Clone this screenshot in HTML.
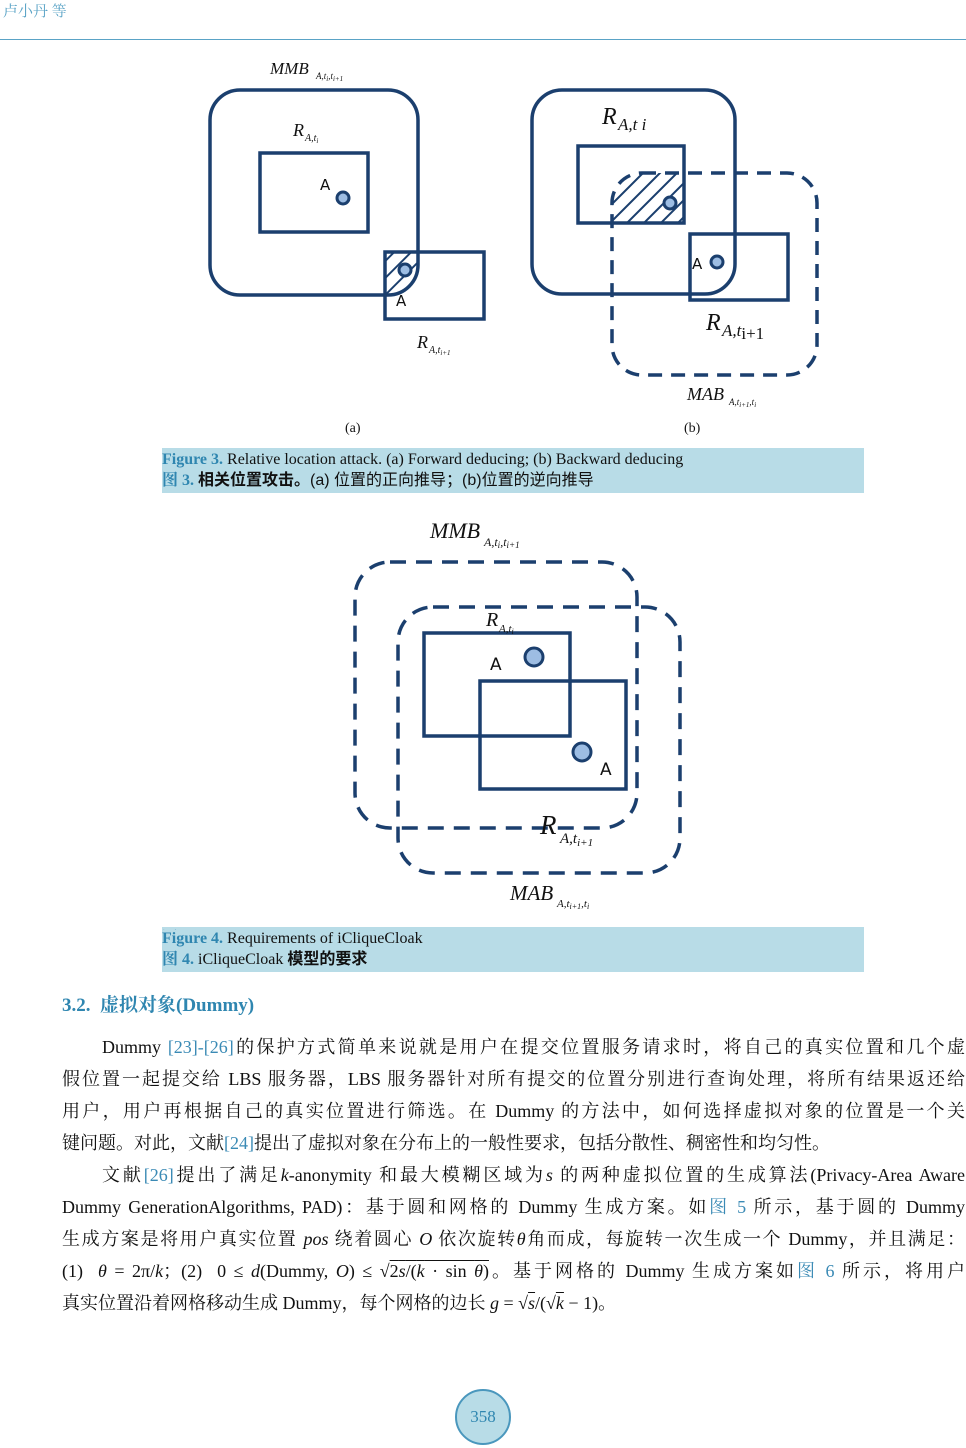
<!DOCTYPE html>
<html><head><meta charset="utf-8"><style>
body{margin:0;width:966px;height:1448px;background:#fff;position:relative;overflow:hidden;font-family:"Liberation Serif","Noto Serif CJK SC",serif;color:#111}
.a{position:absolute}
.ln{position:absolute;left:62px;width:903px;font-size:18px;text-align:justify;text-align-last:justify;white-space:nowrap;line-height:22px}
.b{color:#3a8ab5}
.cap{position:absolute;left:162px;width:702px;height:44px;background:#b8dce7;font-size:16px;line-height:21px;padding-top:1px}
.cap .f{color:#2f86b0;font-weight:bold}
.cap .s{font-family:"Liberation Sans","Noto Sans CJK SC",sans-serif}
svg text{font-family:"Liberation Serif",serif;font-style:italic;fill:#111}
</style></head><body>
<div class="a" style="left:3px;top:0;font-size:15px;color:#5aa3c6">卢小丹 等</div>
<div class="a" style="left:0;top:39px;width:966px;height:1px;background:#5aa3c6"></div>

<svg class="a" style="left:0;top:0" width="966" height="1000">
<defs>
<pattern id="h" patternUnits="userSpaceOnUse" width="12" height="12" patternTransform="rotate(45)"><line x1="0" y1="0" x2="0" y2="12" stroke="#1b3f6e" stroke-width="4"/></pattern>
<clipPath id="ca"><rect x="210" y="90" width="208" height="205" rx="30"/></clipPath>
<clipPath id="cb"><rect x="612" y="173" width="205" height="202" rx="30"/></clipPath>
</defs>
<g fill="none" stroke="#1b3f6e" stroke-width="3.5">
<rect x="385" y="252" width="33" height="43" fill="url(#h)" clip-path="url(#ca)" stroke="none"/>
<rect x="210" y="90" width="208" height="205" rx="30"/>
<rect x="260" y="153" width="108" height="79"/>
<rect x="385" y="252" width="99" height="67"/>
<rect x="612" y="173" width="72" height="50" fill="url(#h)" clip-path="url(#cb)" stroke="none"/>
<rect x="532" y="90" width="203" height="204" rx="30"/>
<rect x="578" y="146" width="106" height="77"/>
<rect x="690" y="234" width="98" height="66"/>
<rect x="612" y="173" width="205" height="202" rx="30" stroke-dasharray="14,9"/>
<rect x="355" y="562" width="282" height="266" rx="35" stroke-dasharray="16,10"/>
<rect x="398" y="607" width="282" height="266" rx="35" stroke-dasharray="16,10"/>
<rect x="424" y="633" width="146" height="103"/>
<rect x="480" y="681" width="146" height="108"/>
</g>
<g fill="#9dbde3" stroke="#1b3f6e" stroke-width="3">
<circle cx="343" cy="198" r="6"/><circle cx="405" cy="270" r="6"/>
<circle cx="670" cy="203" r="6"/><circle cx="717" cy="262" r="6"/>
<circle cx="534" cy="657" r="9"/><circle cx="582" cy="752" r="9"/>
</g>
<g font-size="15">
<text x="320" y="190" style="font-style:normal;font-family:'DejaVu Sans',sans-serif">A</text>
<text x="396" y="306" style="font-style:normal;font-family:'DejaVu Sans',sans-serif">A</text>
<text x="692" y="269" style="font-style:normal;font-family:'DejaVu Sans',sans-serif">A</text>
<text x="490" y="670" style="font-style:normal;font-family:'DejaVu Sans',sans-serif" font-size="17">A</text>
<text x="600" y="775" style="font-style:normal;font-family:'DejaVu Sans',sans-serif" font-size="17">A</text>
</g>
<text x="270" y="74" font-size="17">MMB</text><text x="316" y="79" font-size="9">A,t<tspan font-size="7" dy="2">i</tspan><tspan dy="-2">,t</tspan><tspan font-size="7" dy="2">i+1</tspan></text>
<text x="293" y="136" font-size="18">R</text><text x="305" y="141" font-size="10">A,t<tspan font-size="7" dy="2">i</tspan></text>
<text x="417" y="348" font-size="18">R</text><text x="429" y="353" font-size="10">A,t<tspan font-size="7" dy="2">i+1</tspan></text>
<text x="602" y="124" font-size="24">R</text><text x="618" y="130" font-size="17">A,t i</text>
<text x="706" y="330" font-size="24">R</text><text x="722" y="336" font-size="17">A,t<tspan dy="3" style="font-style:normal">i+1</tspan></text>
<text x="687" y="400" font-size="18">MAB</text><text x="729" y="405" font-size="9">A,t<tspan font-size="7" dy="2">i+1</tspan><tspan dy="-2">,t</tspan><tspan font-size="7" dy="2">i</tspan></text>
<text x="345" y="432" font-size="14" style="font-style:normal">(a)</text>
<text x="684" y="432" font-size="14" style="font-style:normal">(b)</text>
<text x="430" y="538" font-size="22">MMB</text><text x="484" y="546" font-size="12">A,t<tspan font-size="9" dy="2">i</tspan><tspan dy="-2">,t</tspan><tspan font-size="9" dy="2">i+1</tspan></text>
<text x="486" y="626" font-size="20">R</text><text x="499" y="632" font-size="11">A,t<tspan font-size="8" dy="2">i</tspan></text>
<text x="540" y="834" font-size="27">R</text><text x="560" y="843" font-size="15">A,t<tspan font-size="11" dy="3">i+1</tspan></text>
<text x="510" y="900" font-size="21">MAB</text><text x="557" y="907" font-size="11">A,t<tspan font-size="8" dy="2">i+1</tspan><tspan dy="-2">,t</tspan><tspan font-size="8" dy="2">i</tspan></text>
</svg>

<div class="cap" style="top:448px"><span class="f">Figure 3.</span> Relative location attack. (a) Forward deducing; (b) Backward deducing<br><span class="f">图 3.</span> <span class="s"><b>相关位置攻击。</b>(a) 位置的正向推导；(b)位置的逆向推导</span></div>
<div class="cap" style="top:927px"><span class="f">图</span><span style="display:none"></span><span class="f" style="margin-left:-16px;background:#b8dce7">Figure 4.</span> Requirements of iCliqueCloak<br><span class="f">图 4.</span> iCliqueCloak <span class="s"><b>模型的要求</b></span></div>

<div class="a" style="left:62px;top:990px;font-size:19px;font-weight:bold;color:#2f86b0">3.2.&nbsp; 虚拟对象(Dummy)</div>

<div class="ln" style="top:1036px;left:102px;width:863px">Dummy <span class="b">[23]-[26]</span>的保护方式简单来说就是用户在提交位置服务请求时，将自己的真实位置和几个虚</div>
<div class="ln" style="top:1068px">假位置一起提交给 LBS 服务器，LBS 服务器针对所有提交的位置分别进行查询处理，将所有结果返还给</div>
<div class="ln" style="top:1100px">用户，用户再根据自己的真实位置进行筛选。在 Dummy 的方法中，如何选择虚拟对象的位置是一个关</div>
<div class="ln" style="top:1132px;text-align-last:left">键问题。对此，文献<span class="b">[24]</span>提出了虚拟对象在分布上的一般性要求，包括分散性、稠密性和均匀性。</div>
<div class="ln" style="top:1164px;left:102px;width:863px">文献<span class="b">[26]</span>提出了满足<i>k</i>-anonymity 和最大模糊区域为<i>s</i> 的两种虚拟位置的生成算法(Privacy-Area Aware</div>
<div class="ln" style="top:1196px">Dummy GenerationAlgorithms, PAD)：基于圆和网格的 Dummy 生成方案。如<span class="b">图 5</span> 所示，基于圆的 Dummy</div>
<div class="ln" style="top:1228px">生成方案是将用户真实位置 <i>pos</i> 绕着圆心 <i>O</i> 依次旋转<i>θ</i>角而成，每旋转一次生成一个 Dummy，并且满足：</div>
<div class="ln" style="top:1260px">(1) &nbsp;<i>θ</i> = 2π/<i>k</i>；(2) &nbsp;0 ≤ <i>d</i>(Dummy, <i>O</i>) ≤ √<span style="text-decoration:overline">2<i>s</i>/(<i>k</i> · sin <i>θ</i>)</span>。基于网格的 Dummy 生成方案如<span class="b">图 6</span> 所示，将用户</div>
<div class="ln" style="top:1292px;text-align-last:left">真实位置沿着网格移动生成 Dummy，每个网格的边长 <i>g</i> = √<span style="text-decoration:overline"><i>s</i></span>/(√<span style="text-decoration:overline"><i>k</i></span> − 1)。</div>

<div class="a" style="left:455px;top:1389px;width:52px;height:52px;border-radius:50%;background:#b8dce7;border:2px solid #4a97bd;text-align:center;line-height:52px;font-size:17px;color:#2f86b0">358</div>
</body></html>
